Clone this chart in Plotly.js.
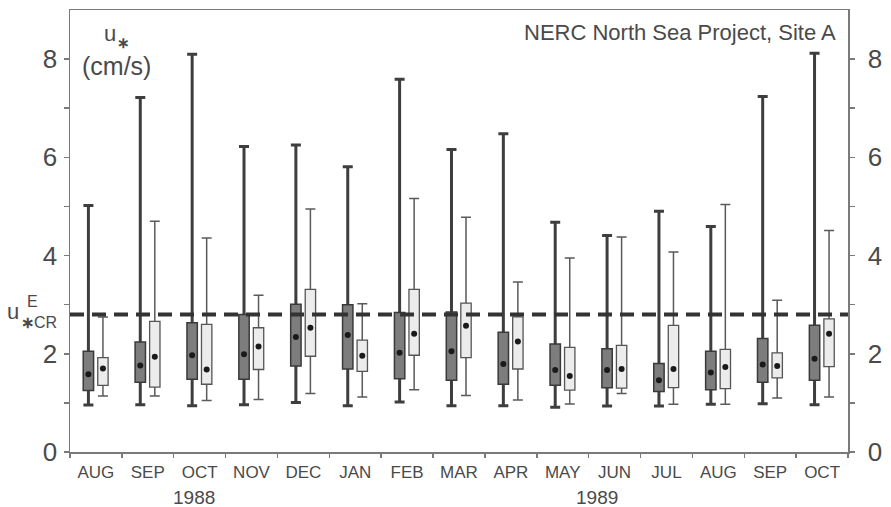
<!DOCTYPE html>
<html>
<head>
<meta charset="utf-8">
<script src="https://cdn.plot.ly/plotly-3.0.1.min.js"></script>
<style>
  html, body { margin: 0; padding: 0; background: #ffffff; }
  #chart { width: 891px; height: 507px; }
</style>
</head>
<body>
<div id="chart"></div>
<script>
// Monthly friction-velocity statistics, Aug 1988 - Oct 1989
const months = ['AUG', 'SEP', 'OCT', 'NOV', 'DEC', 'JAN', 'FEB', 'MAR',
                'APR', 'MAY', 'JUN', 'JUL', 'AUG', 'SEP', 'OCT'];

// first (dark) set: min, lower quartile, centre dot, upper quartile, max
const set1Min = [0.955, 0.96, 0.94, 0.96, 1.01, 0.94, 1.02, 0.94, 0.94, 0.91, 0.935, 0.935, 0.97, 0.98, 0.96];
const set1Q1  = [1.25, 1.42, 1.48, 1.48, 1.75, 1.69, 1.49, 1.46, 1.38, 1.36, 1.31, 1.23, 1.27, 1.42, 1.46];
const set1Mid = [1.585, 1.76, 1.97, 1.99, 2.34, 2.38, 2.02, 2.05, 1.79, 1.67, 1.67, 1.46, 1.62, 1.78, 1.90];
const set1Q3  = [2.05, 2.24, 2.63, 2.80, 3.01, 3.00, 2.84, 2.85, 2.44, 2.20, 2.10, 1.80, 2.05, 2.31, 2.58];
const set1Max = [5.02, 7.22, 8.10, 6.22, 6.25, 5.81, 7.59, 6.16, 6.48, 4.68, 4.41, 4.90, 4.59, 7.24, 8.12];

// second (light) set
const set2Min = [1.14, 1.14, 1.05, 1.07, 1.19, 1.12, 1.27, 1.15, 1.06, 0.975, 1.19, 0.97, 0.97, 1.10, 1.12];
const set2Q1  = [1.355, 1.32, 1.38, 1.68, 1.95, 1.64, 1.97, 1.92, 1.69, 1.26, 1.30, 1.31, 1.29, 1.51, 1.74];
const set2Mid = [1.70, 1.94, 1.68, 2.15, 2.53, 1.96, 2.41, 2.57, 2.25, 1.545, 1.69, 1.69, 1.73, 1.75, 2.41];
const set2Q3  = [1.92, 2.66, 2.60, 2.53, 3.31, 2.28, 3.31, 3.03, 2.75, 2.13, 2.17, 2.58, 2.09, 2.02, 2.71];
const set2Max = [2.75, 4.70, 4.36, 3.19, 4.95, 3.02, 5.16, 4.78, 3.46, 3.95, 4.38, 4.07, 5.04, 3.09, 4.51];

// critical friction velocity for erosion
const uCrit = 2.8;

const yTickVals = [0, 2, 4, 6, 8];
const yTickText = ['0', '2', '4', '6', '8'];
const yMinorVals = [1, 3, 5, 7];
const yearLabels = ['1988', '1989'];

// ---- geometry ----
const nMonths = months.length;
const centres = months.map((m, i) => i + 0.5);
const bounds = Array.from({length: nMonths + 1}, (_, i) => i);
const x1 = centres.map(c => c - 0.145);
const x2 = centres.map(c => c + 0.135);

const FONT = 'Liberation Sans, Arial, Helvetica, sans-serif';
const AXIS = '#7a7a7a';
const TEXT = '#4a4a4a';

function whiskers(x, mid, lo, hi, color, thick) {
  return {
    type: 'scatter', mode: 'markers', x: x, y: mid,
    xaxis: 'x', yaxis: 'y',
    marker: {size: 1, color: 'rgba(0,0,0,0)'},
    error_y: {
      type: 'data', symmetric: false,
      array: hi.map((h, i) => h - mid[i]),
      arrayminus: mid.map((m, i) => m - lo[i]),
      width: 5, thickness: thick, color: color
    },
    hoverinfo: 'skip', showlegend: false
  };
}

function boxes(x, q1, q3, fill, line, lw) {
  return {
    type: 'bar', x: x, base: q1, y: q3.map((v, i) => v - q1[i]),
    width: 0.2, xaxis: 'x2', yaxis: 'y2',
    marker: {color: fill, line: {color: line, width: lw}},
    hoverinfo: 'skip', showlegend: false
  };
}

function dots(x, mid) {
  return {
    type: 'scatter', mode: 'markers', x: x, y: mid,
    xaxis: 'x2', yaxis: 'y2',
    marker: {size: 6, color: '#1a1a1a'},
    hoverinfo: 'skip', showlegend: false
  };
}

const traces = [
  whiskers(x1, set1Mid, set1Min, set1Max, '#3e3e3e', 3),
  whiskers(x2, set2Mid, set2Min, set2Max, '#5a5a5a', 1.5),
  boxes(x1, set1Q1, set1Q3, '#7d7d7d', '#3a3a3a', 1.5),
  boxes(x2, set2Q1, set2Q3, '#ececec', '#555555', 1.3),
  dots(x1, set1Mid),
  dots(x2, set2Mid),
  {
    type: 'scatter', mode: 'lines',
    x: [0, nMonths], y: [uCrit, uCrit],
    xaxis: 'x2', yaxis: 'y2',
    line: {color: '#333333', width: 3.8, dash: '14px,8px'},
    hoverinfo: 'skip', showlegend: false
  }
];

function yAxis(extra) {
  return Object.assign({
    range: [0, 9], tickmode: 'array', tickvals: yTickVals, ticktext: yTickText,
    ticks: 'outside', ticklen: 5, tickwidth: 1.5, tickcolor: AXIS,
    minor: {tickvals: yMinorVals, ticks: 'outside', ticklen: 5, tickwidth: 1.5,
            tickcolor: AXIS, showgrid: false},
    showline: true, linecolor: AXIS, linewidth: 1.5,
    showgrid: false, zeroline: false,
    tickfont: {family: FONT, size: 26, color: TEXT}
  }, extra);
}

function note(text, xref, x, yref, y, size, anchor) {
  return {text: text, xref: xref, yref: yref, x: x, y: y,
          xanchor: anchor || 'center', yanchor: 'middle', showarrow: false,
          font: {family: FONT, size: size, color: TEXT}};
}

const layout = {
  width: 891, height: 507,
  margin: {l: 70, r: 43, t: 10, b: 55},
  paper_bgcolor: '#ffffff', plot_bgcolor: '#ffffff',
  barmode: 'overlay',
  font: {family: FONT, color: TEXT},
  xaxis: {
    range: [0, nMonths], tickvals: centres, ticktext: months,
    ticks: '', showline: true, mirror: true,
    linecolor: AXIS, linewidth: 1.5,
    showgrid: false, zeroline: false, ticklabelstandoff: 4,
    tickfont: {family: FONT, size: 17, color: TEXT}
  },
  xaxis2: {
    overlaying: 'x', anchor: 'y2', side: 'bottom',
    range: [0, nMonths], tickvals: bounds,
    ticks: 'outside', ticklen: 5, tickwidth: 1.5, tickcolor: AXIS,
    showticklabels: false, showline: false,
    showgrid: false, zeroline: false
  },
  yaxis: yAxis({side: 'left', ticklabelstandoff: 1}),
  yaxis2: yAxis({overlaying: 'y', side: 'right', anchor: 'x2', ticklabelstandoff: 8}),
  annotations: [
    note('NERC North Sea Project, Site A', 'paper', 0.987, 'y', 8.55, 22, 'right'),
    // axis unit label: u-star in cm/s
    note('u', 'paper', 0.0514, 'y', 8.52, 22),
    note('<b>∗</b>', 'paper', 0.0694, 'y', 8.33, 15),
    note('(cm/s)', 'paper', 0.0604, 'y', 7.87, 25),
    // label of the critical threshold line
    note('u', 'paper', -0.083, 'y', 2.86, 22, 'left'),
    note('<b>∗</b>CR', 'paper', -0.065, 'y', 2.63, 16, 'left'),
    note('E', 'paper', -0.0575, 'y', 3.06, 16, 'left'),
    // year captions under the month labels
    note(yearLabels[0], 'x', 2.39, 'paper', -0.104, 19),
    note(yearLabels[1], 'x', 10.17, 'paper', -0.104, 19)
  ]
};

Plotly.newPlot('chart', traces, layout, {displayModeBar: false, staticPlot: true});
</script>
</body>
</html>
